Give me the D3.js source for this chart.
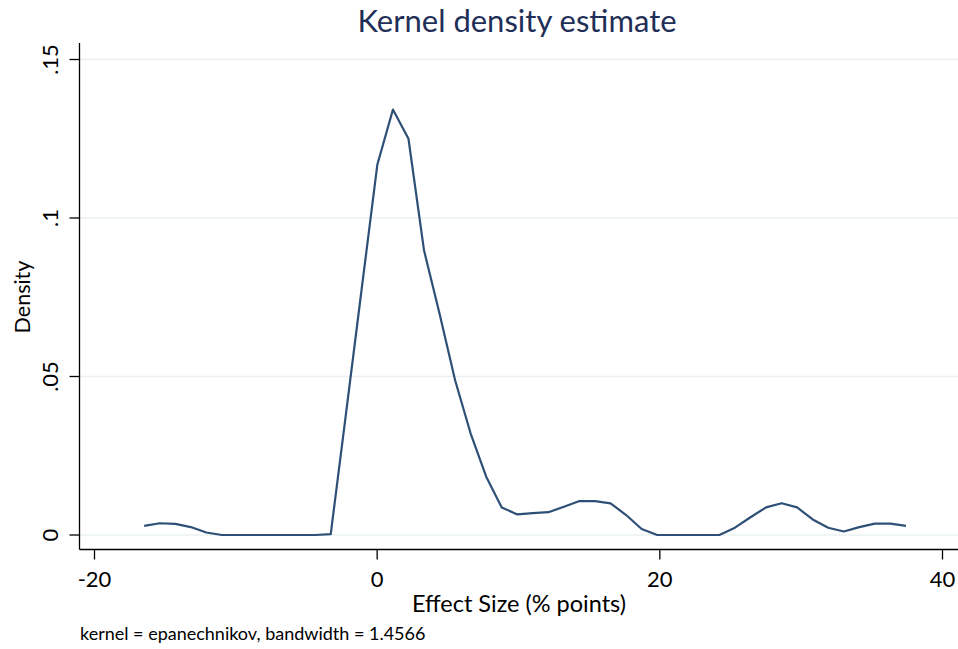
<!DOCTYPE html>
<html>
<head>
<meta charset="utf-8">
<script src="https://cdn.jsdelivr.net/npm/d3@7"></script>
<style>
  body { margin: 0; background: #fff; }
  text { font-family: Lato, "Open Sans", sans-serif; fill: #000; }
</style>
</head>
<body>
<div class="chart"></div>
<script>
// estimate points (50 of them, as kdensity gives)
var effectSize = [-16.45, -15.35, -14.25, -13.15, -12.05, -10.95, -9.85, -8.75, -7.65, -6.55,
  -5.45, -4.35, -3.25, -2.15, -1.05, 0.05, 1.15, 2.25, 3.35, 4.45,
  5.55, 6.65, 7.75, 8.85, 9.95, 11.05, 12.15, 13.25, 14.35, 15.45,
  16.55, 17.65, 18.75, 19.85, 20.95, 22.05, 23.15, 24.25, 25.35, 26.45,
  27.55, 28.65, 29.75, 30.85, 31.95, 33.05, 34.15, 35.25, 36.35, 37.45];
var density = [0.0029, 0.0037, 0.0035, 0.0025, 0.0008, 0, 0, 0, 0, 0,
  0, 0, 0.0003, 0.039, 0.078, 0.1169, 0.1342, 0.1250, 0.0898, 0.0698,
  0.0488, 0.0320, 0.0184, 0.0087, 0.0065, 0.0069, 0.0072, 0.0089, 0.0107, 0.0107,
  0.0100, 0.0063, 0.0019, 0, 0, 0, 0, 0, 0.0023, 0.0056,
  0.0087, 0.0100, 0.0087, 0.0049, 0.0023, 0.0011, 0.0025, 0.0036, 0.0036, 0.0029];

var xTicks = [-20, 0, 20, 40];
var xTickLabels = ["-20", "0", "20", "40"];
var yTicks = [0, 0.05, 0.1, 0.15];
var yTickLabels = ["0", ".05", ".1", ".15"];

var svgWidth = 958;
var svgHeight = 649;

var svg = d3.select(".chart")
  .append("svg")
  .attr("width", svgWidth)
  .attr("height", svgHeight);

// plot region edges (axis lines)
var plotLeft = 79.5;
var plotRight = 958;
var plotTop = 43;
var plotBottom = 549.5;

var xScale = d3.scaleLinear()
  .domain([-20, 40])
  .range([94, 942]);

var yScale = d3.scaleLinear()
  .domain([0, 0.15])
  .range([535, 59.5]);

// gridlines
svg.append("g")
  .selectAll("line")
  .data(yTicks)
  .enter()
  .append("line")
  .attr("x1", plotLeft)
  .attr("x2", plotRight)
  .attr("y1", d => yScale(d))
  .attr("y2", d => yScale(d))
  .attr("stroke", "#eaf0f2")
  .attr("stroke-width", 1.5);

// axes
var bottomAxis = d3.axisBottom(xScale)
  .tickValues(xTicks)
  .tickSize(10)
  .tickPadding(12)
  .tickFormat((d, i) => xTickLabels[i]);

var leftAxis = d3.axisLeft(yScale)
  .tickValues(yTicks)
  .tickSize(10)
  .tickPadding(8)
  .tickFormat((d, i) => yTickLabels[i]);

var xAxisG = svg.append("g")
  .attr("transform", `translate(0, ${plotBottom})`)
  .call(bottomAxis);
xAxisG.select(".domain").remove();
xAxisG.selectAll("line").attr("stroke", "#000").attr("stroke-width", 1.3);
xAxisG.selectAll("text")
  .style("font-family", "Lato, sans-serif")
  .style("font-size", "22px")
  .attr("fill", "#000");

var yAxisG = svg.append("g")
  .attr("transform", `translate(${plotLeft}, 0)`)
  .call(leftAxis);
yAxisG.select(".domain").remove();
yAxisG.selectAll("line").attr("stroke", "#000").attr("stroke-width", 1.3);
yAxisG.selectAll("text")
  .style("font-family", "Lato, sans-serif")
  .style("font-size", "22px")
  .attr("fill", "#000")
  .attr("text-anchor", "middle")
  .attr("dy", null)
  .attr("x", null)
  .attr("transform", d => `translate(-22, ${yScale(d)}) rotate(-90)`)
  .attr("y", 0);
// axisLeft sets y on the tick group; put the rotated text back on the tick
yAxisG.selectAll(".tick").attr("transform", "translate(0,0)");
yAxisG.selectAll(".tick line")
  .attr("y1", d => yScale(d))
  .attr("y2", d => yScale(d));

// axis lines
svg.append("line")
  .attr("x1", plotLeft).attr("x2", plotLeft)
  .attr("y1", plotTop).attr("y2", plotBottom)
  .attr("stroke", "#000").attr("stroke-width", 1.3);
svg.append("line")
  .attr("x1", plotLeft).attr("x2", plotRight)
  .attr("y1", plotBottom).attr("y2", plotBottom)
  .attr("stroke", "#000").attr("stroke-width", 1.3);

// density curve
var line = d3.line()
  .x((d, i) => xScale(effectSize[i]))
  .y(d => yScale(d));

svg.append("path")
  .datum(density)
  .attr("d", line)
  .attr("fill", "none")
  .attr("stroke", "#2f5076")
  .attr("stroke-width", 2.2)
  .attr("stroke-linejoin", "round");

// titles
svg.append("text")
  .attr("x", 517)
  .attr("y", 32)
  .attr("text-anchor", "middle")
  .style("font-size", "31px")
  .style("fill", "#1f2f57")
  .text("Kernel density estimate");

svg.append("text")
  .attr("transform", "translate(30, 297) rotate(-90)")
  .attr("text-anchor", "middle")
  .style("font-size", "21.5px")
  .text("Density");

svg.append("text")
  .attr("x", 519)
  .attr("y", 612)
  .attr("text-anchor", "middle")
  .style("font-size", "23.5px")
  .text("Effect Size (% points)");

svg.append("text")
  .attr("x", 80)
  .attr("y", 640)
  .style("font-size", "18px")
  .text("kernel = epanechnikov, bandwidth = 1.4566");
</script>
</body>
</html>
